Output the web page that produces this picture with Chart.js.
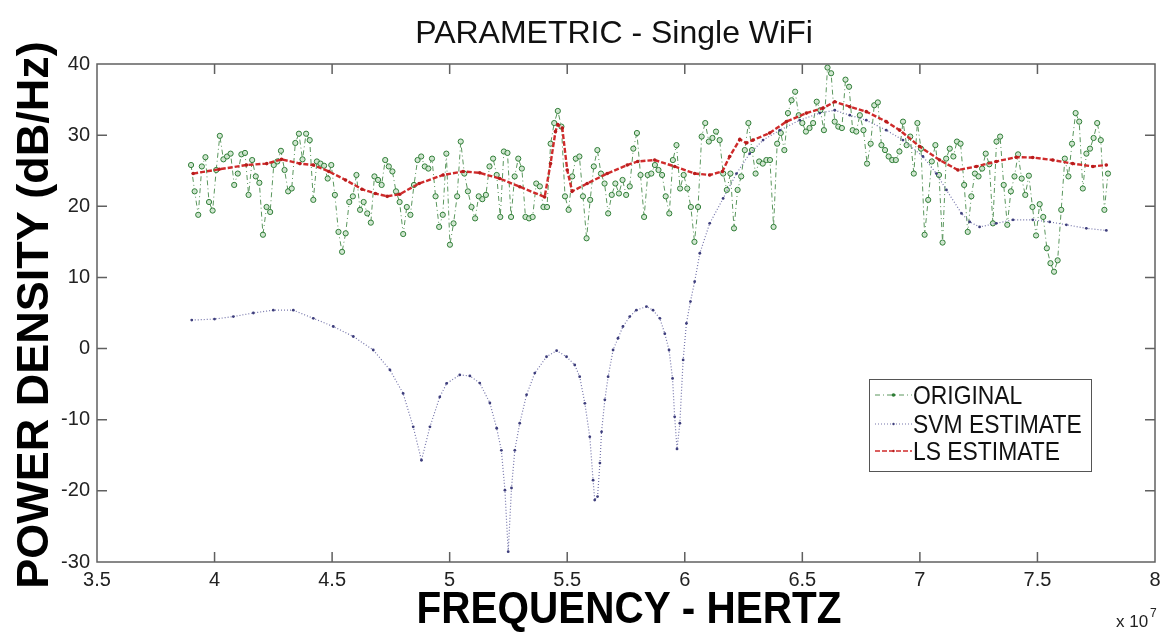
<!DOCTYPE html>
<html>
<head>
<meta charset="utf-8">
<title>PARAMETRIC - Single WiFi</title>
<script src="https://cdn.jsdelivr.net/npm/chart.js@4.4.1/dist/chart.umd.min.js"></script>
<style>
  html, body { margin: 0; padding: 0; background: #fff; }
  #wrap { width: 1171px; height: 632px; position: relative; }
</style>
</head>
<body>
<div id="wrap"><canvas id="psdChart"></canvas></div>
<script>
// frequency axis is in units of 10^7 Hz
const xTicks = { min: 3.5, max: 8, step: 0.5 };
const yTicks = { min: -30, max: 40, step: 10 };

// measured spectrum, 256 bins from 3.9 to 7.8 (x 10^7 Hz)
const originalStart = 3.9;
const originalEnd = 7.8;
const originalPower = [
  25.8, 22.1, 18.8, 25.6, 26.9, 20.6, 19.4, 25.1, 29.9, 26.6, 27.0, 27.4, 23.0, 24.6, 27.3, 27.5,
  21.6, 26.5, 24.2, 23.3, 16.0, 19.9, 19.2, 25.8, 26.3, 27.8, 25.1, 22.1, 22.5, 28.9, 30.2, 26.6,
  30.2, 29.3, 20.9, 26.3, 26.0, 25.7, 23.9, 25.8, 21.6, 16.4, 13.6, 16.2, 20.6, 21.4, 24.4, 19.5,
  20.6, 19.0, 17.7, 24.2, 23.7, 23.0, 26.5, 25.6, 24.9, 22.1, 20.6, 16.1, 19.9, 18.8, 23.0,
  26.5, 27.0, 25.6, 25.3, 26.7, 21.4, 17.1, 18.8, 27.4, 14.6, 17.6, 21.4, 29.1, 24.6, 22.1, 19.9,
  18.3, 21.4, 21.0, 21.6, 25.6, 26.7, 24.4, 18.5, 27.7, 27.5, 18.5, 24.2, 26.7, 25.3, 18.5, 18.3,
  18.5, 23.2, 22.8, 19.9, 19.9, 28.8, 31.7, 33.4, 31.2, 21.4, 19.5, 24.2, 26.7, 27.0, 21.4, 15.5,
  20.9, 25.6, 27.9, 24.6, 23.2, 19.0, 21.6, 23.2, 21.8, 23.7, 21.6, 22.8, 28.1, 30.3, 24.4, 18.5,
  24.4, 24.6,
  25.8, 25.1, 24.4, 21.4, 19.0, 26.5, 28.6, 22.5, 24.4, 22.5, 19.9, 15.0, 19.9, 29.8, 31.7, 29.1,
  29.6, 30.5, 29.3, 24.6, 22.3, 24.6, 16.9, 22.3, 24.2, 27.9, 31.7, 27.9, 24.6, 26.3, 26.0, 26.5,
  26.5, 17.1, 28.8, 30.3, 27.9, 33.1, 34.9, 36.1, 32.8, 31.7, 30.5, 31.0, 31.7, 34.7, 33.5, 30.7,
  39.5, 38.7, 31.9, 31.2, 31.0, 37.8, 36.8, 30.7, 30.5, 32.8, 30.7, 26.0, 28.8, 34.2, 34.6, 28.6,
  27.9, 27.0, 26.5,
  26.5, 27.7, 31.9, 28.6, 29.8, 24.6, 31.7, 28.1, 16.0, 20.9, 26.3, 28.6, 24.4, 14.9, 26.7, 28.1,
  27.0, 29.1, 28.8, 23.0, 16.4, 21.4, 24.6, 24.2, 25.3, 27.4, 25.9, 17.6, 29.1, 29.8, 23.0, 17.4,
  22.1, 24.2, 27.3, 23.9, 21.6, 24.3, 19.9, 15.9, 20.3, 18.5, 14.1, 12.0, 10.8, 12.4, 19.5, 26.7,
  24.2, 28.8, 33.1, 31.9, 22.5, 27.4, 28.1, 29.6, 31.7, 29.3, 19.5, 24.6
];
const originalFreq = originalPower.map((_, i) =>
  originalStart + i * (originalEnd - originalStart) / (originalPower.length - 1));

// SVM estimate
const svmFreq = [
  3.903, 4.0, 4.08, 4.165, 4.25, 4.335, 4.42, 4.505, 4.59, 4.675, 4.746, 4.802, 4.845, 4.88,
  4.916, 4.958, 4.987, 5.043, 5.086, 5.128, 5.171, 5.2, 5.22, 5.235, 5.249, 5.263, 5.277, 5.298,
  5.327, 5.362, 5.412, 5.455, 5.497, 5.532, 5.553, 5.575, 5.596, 5.61, 5.617, 5.629, 5.639, 5.646,
  5.66, 5.674, 5.695, 5.716, 5.737, 5.766, 5.794, 5.837, 5.865, 5.894, 5.915, 5.933, 5.948, 5.957,
  5.967, 5.979, 5.993, 6.007, 6.024, 6.042, 6.064, 6.106, 6.163, 6.22, 6.276, 6.333, 6.404, 6.489,
  6.574, 6.638, 6.702, 6.772, 6.857, 6.928, 7.013, 7.07, 7.113, 7.177, 7.212, 7.254, 7.325, 7.396,
  7.48, 7.552, 7.623, 7.708, 7.793
];
const svmPower = [
  4.0, 4.15, 4.5, 5.0, 5.4, 5.4, 4.25, 3.1, 1.7, -0.2, -3.0, -6.3, -11.0, -15.7,
  -11.0, -6.8, -4.9, -3.7, -3.85, -4.85, -7.65, -11.2, -14.3, -19.9, -28.55, -19.6, -14.3, -10.5,
  -6.5, -3.45, -1.15, -0.3, -1.15, -2.3, -3.95, -7.7, -12.4, -18.5, -21.3, -20.8, -16.1, -11.7,
  -7.2, -3.95, -0.2, 1.45, 3.1, 4.5, 5.4, 5.9, 5.4, 4.25, 2.1, -0.2, -4.2, -9.6,
  -14.1, -10.5, -1.6, 3.55, 6.6, 9.4, 13.4, 17.6, 21.1, 24.6, 27.4, 29.3, 30.7, 32.1,
  33.1, 33.5, 32.8, 32.1, 30.7, 29.3, 27.0, 24.6, 22.3, 19.0, 17.8, 17.1, 17.6, 18.1,
  18.1, 17.8, 17.4, 16.9, 16.6
];

// LS estimate
const lsFreq = [
  3.909, 4.02, 4.136, 4.222, 4.285, 4.363, 4.42, 4.486, 4.557, 4.627, 4.684, 4.734, 4.788, 4.87,
  4.972, 5.057, 5.128, 5.213, 5.298, 5.404, 5.429, 5.45, 5.46, 5.479, 5.5, 5.521, 5.585, 5.67,
  5.755, 5.8, 5.872, 5.957, 6.042, 6.106, 6.16, 6.191, 6.234, 6.262, 6.29, 6.361, 6.432, 6.517,
  6.588, 6.638, 6.702, 6.772, 6.857, 6.914, 6.999, 7.084, 7.162, 7.24, 7.325, 7.41, 7.48, 7.565,
  7.65, 7.736, 7.793
];
const lsPower = [
  24.6, 25.2, 25.8, 26.0, 26.6, 26.0, 25.8, 24.9, 23.7, 22.4, 21.8, 21.4, 21.7, 23.2,
  24.4, 24.9, 24.7, 23.9, 22.75, 21.3, 26.0, 30.5, 31.5, 31.0, 25.1, 22.1, 23.2, 24.6,
  25.8, 26.3, 26.5, 25.6, 24.6, 24.4, 24.9, 27.0, 29.4, 28.9, 29.3, 30.3, 31.9, 33.1,
  33.8, 34.7, 34.0, 33.3, 31.9, 30.7, 28.4, 26.5, 25.1, 25.6, 26.3, 26.9, 26.85, 26.5,
  26.0, 25.6, 25.8
];

const seriesLabels = ['ORIGINAL', 'SVM ESTIMATE', 'LS ESTIMATE'];

const FONT = "'Liberation Sans', Arial, Helvetica, sans-serif";

const toPoints = (xs, ys) => ys.map((y, i) => ({ x: xs[i], y: y }));

// frame, inward tick marks, titles, exponent note and boxed legend
const matlabAxes = {
  id: 'matlabAxes',
  afterDraw(chart) {
    const ctx = chart.ctx;
    const { left, right, top, bottom } = chart.chartArea;
    const xs = chart.scales.x, ys = chart.scales.y;
    const tick = 10;

    ctx.save();
    ctx.strokeStyle = '#606060';
    ctx.lineWidth = 1.5;
    ctx.strokeRect(left, top, right - left, bottom - top);
    ctx.beginPath();
    xs.ticks.forEach(t => {
      const px = xs.getPixelForValue(t.value);
      if (px <= left + 1 || px >= right - 1) return;
      ctx.moveTo(px, bottom); ctx.lineTo(px, bottom - tick);
      ctx.moveTo(px, top); ctx.lineTo(px, top + tick);
    });
    ys.ticks.forEach(t => {
      const py = ys.getPixelForValue(t.value);
      if (py <= top + 1 || py >= bottom - 1) return;
      ctx.moveTo(left, py); ctx.lineTo(left + tick, py);
      ctx.moveTo(right, py); ctx.lineTo(right - tick, py);
    });
    ctx.stroke();

    // chart title
    ctx.fillStyle = '#111';
    ctx.textAlign = 'center';
    ctx.textBaseline = 'alphabetic';
    ctx.font = '32px ' + FONT;
    ctx.fillText('PARAMETRIC - Single WiFi', 614, 43);

    // x axis title (slightly condensed)
    ctx.save();
    ctx.translate(629, 623);
    ctx.scale(0.92, 1);
    ctx.font = 'bold 44px ' + FONT;
    ctx.fillStyle = '#000';
    ctx.fillText('FREQUENCY - HERTZ', 0, 0);
    ctx.restore();

    // y axis title
    ctx.save();
    ctx.translate(48, 315);
    ctx.rotate(-Math.PI / 2);
    ctx.font = 'bold 45px ' + FONT;
    ctx.fillStyle = '#000';
    ctx.fillText('POWER DENSITY (dB/Hz)', 0, 0);
    ctx.restore();

    // x 10^7
    ctx.textAlign = 'left';
    ctx.fillStyle = '#222';
    ctx.font = '17px ' + FONT;
    ctx.fillText('x 10', 1116, 627);
    ctx.font = '12px ' + FONT;
    ctx.fillText('7', 1150, 617);

    // legend
    const box = { x: 869, y: 379, w: 222, h: 92 };
    ctx.fillStyle = '#fff';
    ctx.fillRect(box.x, box.y, box.w, box.h);
    ctx.strokeStyle = '#555';
    ctx.lineWidth = 1;
    ctx.strokeRect(box.x + 0.5, box.y + 0.5, box.w, box.h);
    const rows = [395, 424, 451];
    chart.data.datasets.forEach((ds, i) => {
      const y = rows[i];
      ctx.save();
      ctx.strokeStyle = ds.borderColor;
      ctx.lineWidth = Math.min(ds.borderWidth, 1.5);
      ctx.setLineDash(ds.borderDash || []);
      ctx.beginPath();
      ctx.moveTo(875, y); ctx.lineTo(912, y);
      ctx.stroke();
      ctx.setLineDash([]);
      ctx.beginPath();
      ctx.arc(893.5, y, Math.max(ds.pointRadius - 0.8, 1.2), 0, Math.PI * 2);
      ctx.fillStyle = ds.pointBorderColor || ds.borderColor;
      ctx.fill();
      ctx.restore();

      ctx.save();
      ctx.translate(913, y + 9);
      ctx.scale(0.88, 1);
      ctx.font = '26px ' + FONT;
      ctx.fillStyle = '#111';
      ctx.textAlign = 'left';
      ctx.fillText(ds.label, 0, 0);
      ctx.restore();
    });
    ctx.restore();
  }
};

new Chart(document.getElementById('psdChart'), {
  type: 'line',
  data: {
    datasets: [
      {
        label: seriesLabels[0],
        data: toPoints(originalFreq, originalPower),
        borderColor: '#5a965d',
        borderWidth: 1,
        borderDash: [5, 3, 1, 3],
        pointRadius: 2.6,
        pointBorderWidth: 1,
        pointBorderColor: '#2f7d36',
        pointBackgroundColor: 'rgba(205,228,205,0.9)',
        tension: 0,
        order: 3
      },
      {
        label: seriesLabels[1],
        data: toPoints(svmFreq, svmPower),
        borderColor: '#7474aa',
        borderWidth: 1.2,
        borderDash: [1, 2],
        pointRadius: 1.4,
        pointBorderWidth: 0,
        pointBorderColor: '#3e3e7c',
        pointBackgroundColor: '#3e3e7c',
        tension: 0,
        order: 2
      },
      {
        label: seriesLabels[2],
        data: toPoints(lsFreq, lsPower),
        borderColor: '#cf2b2b',
        borderWidth: 2.4,
        borderDash: [5, 2],
        pointRadius: 1.8,
        pointBorderWidth: 0,
        pointBorderColor: '#b81c1c',
        pointBackgroundColor: '#b81c1c',
        tension: 0,
        order: 1
      }
    ]
  },
  options: {
    responsive: true,
    maintainAspectRatio: false,
    animation: false,
    layout: { padding: { top: 64, right: 16, left: 0, bottom: 0 } },
    plugins: {
      legend: { display: false },
      title: { display: false },
      tooltip: { enabled: false }
    },
    scales: {
      x: {
        type: 'linear',
        min: xTicks.min,
        max: xTicks.max,
        ticks: {
          stepSize: xTicks.step,
          color: '#222',
          padding: 6,
          font: { family: FONT, size: 20 },
          callback: v => String(Math.round(v * 10) / 10)
        },
        grid: { display: false, drawTicks: false },
        border: { display: false },
        afterFit(scale) { scale.height = 70; }
      },
      y: {
        min: yTicks.min,
        max: yTicks.max,
        ticks: { stepSize: yTicks.step, color: '#222', padding: 7, font: { family: FONT, size: 20 } },
        grid: { display: false, drawTicks: false },
        border: { display: false },
        afterFit(scale) { scale.width = 97; }
      }
    }
  },
  plugins: [matlabAxes]
});
</script>
</body>
</html>
